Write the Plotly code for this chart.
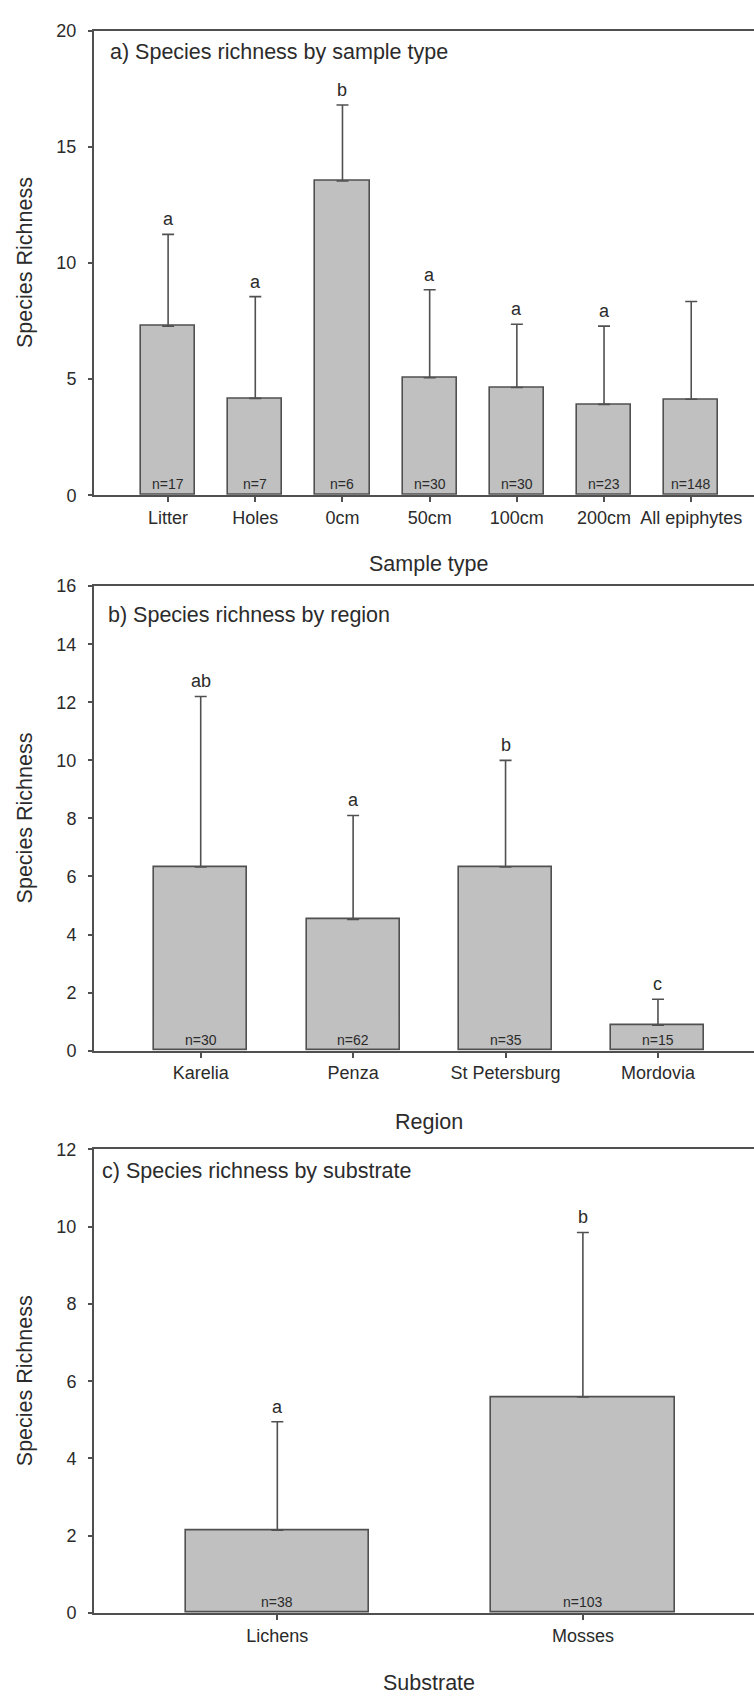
import plotly.graph_objects as go

# ---------------- data ----------------
sample_types = ["Litter", "Holes", "0cm", "50cm", "100cm", "200cm", "All epiphytes"]
richness_sample = [7.28, 4.17, 13.53, 5.06, 4.64, 3.91, 4.13]
sd_sample = [3.95, 4.38, 3.27, 3.79, 2.72, 3.37, 4.21]
letters_sample = ["a", "a", "b", "a", "a", "a", ""]
n_sample = ["n=17", "n=7", "n=6", "n=30", "n=30", "n=23", "n=148"]

regions = ["Karelia", "Penza", "St Petersburg", "Mordovia"]
richness_region = [6.33, 4.52, 6.33, 0.88]
sd_region = [5.87, 3.58, 3.67, 0.89]
letters_region = ["ab", "a", "b", "c"]
n_region = ["n=30", "n=62", "n=35", "n=15"]

substrates = ["Lichens", "Mosses"]
richness_substrate = [2.14, 5.59]
sd_substrate = [2.81, 4.26]
letters_substrate = ["a", "b"]
n_substrate = ["n=38", "n=103"]

panel_titles = ["a) Species richness by sample type",
                "b) Species richness by region",
                "c) Species richness by substrate"]
x_titles = ["Sample type", "Region", "Substrate"]
y_title = "Species Richness"

# ---------------- style ----------------
W, H = 754, 1703
FONT = "Liberation Sans, Arial, sans-serif"
TXT = "#2b2b2b"
LINE = "#505050"
BAR = "#c0c0c0"

panels = [
    dict(cats=sample_types, vals=richness_sample, sd=sd_sample, let=letters_sample, n=n_sample,
         top=21, bottom=491, xr=[-0.85, 6.72], yr=[0, 20], dt=5, bw=0.62,
         title_xy=(108, 43), xt_y=561),
    dict(cats=regions, vals=richness_region, sd=sd_region, let=letters_region, n=n_region,
         top=583, bottom=1053, xr=[-0.70, 3.63], yr=[0, 16], dt=2, bw=0.61,
         title_xy=(106, 612), xt_y=1125),
    dict(cats=substrates, vals=richness_substrate, sd=sd_substrate, let=letters_substrate, n=n_substrate,
         top=1153, bottom=1622, xr=[-0.60, 1.56], yr=[0, 12], dt=2, bw=0.60,
         title_xy=(100, 1175), xt_y=1693),
]

fig = go.Figure()
x0 = 94 / W
annotations = []
for i, p in enumerate(panels):
    k = "" if i == 0 else str(i + 1)
    xa, ya = "x" + k, "y" + k
    xs = list(range(len(p["cats"])))
    fig.add_trace(go.Bar(
        x=xs, y=p["vals"], width=p["bw"], xaxis=xa, yaxis=ya,
        marker=dict(color=BAR, line=dict(color=LINE, width=1.6)),
        error_y=dict(type="data", symmetric=False, array=p["sd"],
                     arrayminus=[0] * len(xs), color=LINE, thickness=1.6, width=6),
        showlegend=False, hoverinfo="skip"))
    dom = [1 - p["bottom"] / H, 1 - p["top"] / H]
    fig.layout["xaxis" + k] = dict(
        domain=[x0, 1], range=p["xr"], anchor=ya, tickmode="array",
        tickvals=xs, ticktext=p["cats"], ticks="outside", ticklen=5, tickwidth=1.5,
        tickcolor=LINE, showline=True, linecolor=LINE, linewidth=2, mirror=True,
        showgrid=False, zeroline=False, fixedrange=True,
        tickfont=dict(family=FONT, size=18, color=TXT))
    fig.layout["yaxis" + k] = dict(
        domain=dom, range=p["yr"], dtick=p["dt"], anchor=xa, ticks="outside",
        ticklen=4, tickwidth=1.5, tickcolor=LINE, showline=True, linecolor=LINE,
        linewidth=2, showgrid=False, zeroline=False, fixedrange=True,
        ticklabelstandoff=8, tickfont=dict(family=FONT, size=18, color=TXT))
    # letters above error bars
    for xi, v, s, l in zip(xs, p["vals"], p["sd"], p["let"]):
        if l:
            annotations.append(dict(x=xi, y=v + s, xref=xa, yref=ya, text=l,
                                    showarrow=False, yanchor="bottom", yshift=3,
                                    font=dict(family=FONT, size=18, color=TXT)))
    # n labels at bar bottom
    for xi, t in zip(xs, p["n"]):
        annotations.append(dict(x=xi, y=0, xref=xa, yref=ya, text=t, showarrow=False,
                                yanchor="bottom", yshift=1,
                                font=dict(family=FONT, size=14, color=TXT)))
    # panel title
    tx, ty = p["title_xy"]
    annotations.append(dict(x=tx / W, y=1 - ty / H, xref="paper", yref="paper",
                            text=panel_titles[i], showarrow=False, xanchor="left",
                            yanchor="middle", font=dict(family=FONT, size=21.5, color=TXT)))
    # x-axis title
    annotations.append(dict(x=((94 + 765) / 2) / W, y=1 - p["xt_y"] / H, xref="paper",
                            yref="paper", text=x_titles[i], showarrow=False,
                            xanchor="center", yanchor="middle",
                            font=dict(family=FONT, size=21.5, color=TXT)))
    # y-axis title
    annotations.append(dict(x=25 / W, y=1 - ((p["top"] + p["bottom"]) / 2) / H,
                            xref="paper", yref="paper", text=y_title, showarrow=False,
                            textangle=-90, xanchor="center", yanchor="middle",
                            font=dict(family=FONT, size=21.5, color=TXT)))

fig.update_layout(width=W, height=H, margin=dict(l=0, r=0, t=0, b=0),
                  paper_bgcolor="white", plot_bgcolor="white",
                  annotations=annotations, bargap=0)
fig.write_html("out.html")
